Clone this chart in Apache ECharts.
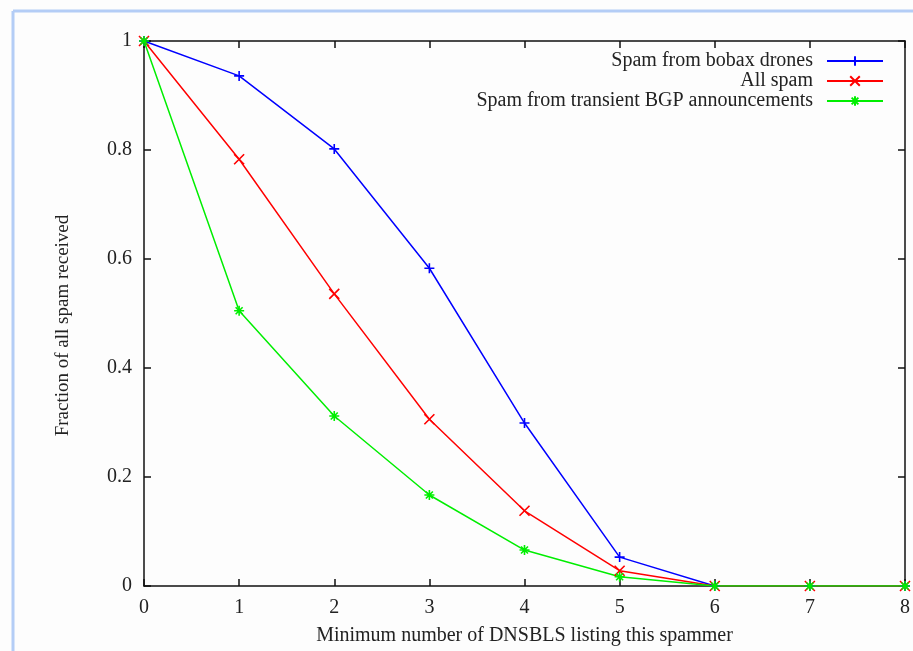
<!DOCTYPE html>
<html><head><meta charset="utf-8">
<script src="https://cdn.jsdelivr.net/npm/echarts@6/dist/echarts.min.js"></script>
<style>html,body{margin:0;padding:0;background:#fdfdfd}#c{width:913px;height:651px}</style>
</head><body><div id="c"></div>
<script>
const categories = [0,1,2,3,4,5,6,7,8];
const bobax = [1,0.936,0.802,0.583,0.299,0.053,0,0,0];
const allSpam = [1,0.783,0.536,0.306,0.138,0.028,0,0,0];
const bgp = [1,0.505,0.312,0.167,0.066,0.017,0,0,0];
const seriesNames = ['Spam from bobax drones','All spam','Spam from transient BGP announcements'];
const yTicks = [0,0.2,0.4,0.6,0.8,1];

const font = 'Liberation Serif';
const plus = 'path://M0,5L10,5M5,0L5,10';
const cross = 'path://M1,1L9,9M9,1L1,9';
const star = 'path://M0,5L10,5M5,0L5,10M1.5,1.5L8.5,8.5M8.5,1.5L1.5,8.5';
function mk(name, data, color, sym){
  return {name, type:'line', data: categories.map((c,i)=>[c,data[i]]),
    symbol: sym, symbolSize: 10, showSymbol:true,
    lineStyle:{color, width:1.5},
    itemStyle:{color:'none', borderColor:color, borderWidth:1.6},
    emphasis:{disabled:true}, animation:false, z:3};
}
const axisTick = {inside:true, length:7, lineStyle:{color:'#111', width:1.5}};
const axisLine = {onZero:false, lineStyle:{color:'#111', width:1.5}};
const chart = echarts.init(document.getElementById('c'));
chart.setOption({
  backgroundColor:'#fdfdfd',
  animation:false,
  grid:{left:144, right:5, top:41, bottom:65},
  graphic:[
    {type:'line', shape:{x1:13,y1:11,x2:913,y2:11}, style:{stroke:'#b4cdf6', lineWidth:3}},
    {type:'line', shape:{x1:13,y1:11,x2:13,y2:651}, style:{stroke:'#b4cdf6', lineWidth:3}}
  ],
  legend:{
    orient:'vertical', right:24, top:46, align:'right',
    itemWidth:56, itemHeight:12, itemGap:0,
    textStyle:{fontFamily:font, fontSize:20, lineHeight:20, color:'#222', padding:[0,9,0,0]},
    data: seriesNames
  },
  xAxis:[
    {type:'value', min:0, max:8, interval:1, name:'Minimum number of DNSBLS listing this spammer',
     nameLocation:'middle', nameGap:40, nameTextStyle:{fontFamily:font, fontSize:20, color:'#222'},
     axisLine, axisTick,
     axisLabel:{fontFamily:font, fontSize:20, color:'#222', margin:12}, splitLine:{show:false}},
    {type:'value', min:0, max:8, interval:1, position:'top',
     axisLine, axisTick, axisLabel:{show:false}, splitLine:{show:false}}
  ],
  yAxis:[
    {type:'value', min:0, max:1, interval:0.2, name:'Fraction of all spam received',
     nameLocation:'middle', nameGap:71, nameTextStyle:{fontFamily:font, fontSize:19, color:'#222', padding:[0,24,0,0]},
     axisLine, axisTick,
     axisLabel:{fontFamily:font, fontSize:20, color:'#222', margin:12,
       formatter:v=>{const t=yTicks.find(x=>Math.abs(x-v)<1e-9); return t===undefined?'':String(t);}},
     splitLine:{show:false}},
    {type:'value', min:0, max:1, interval:0.2, position:'right',
     axisLine, axisTick, axisLabel:{show:false}, splitLine:{show:false}}
  ],
  series:[
    mk(seriesNames[0], bobax, '#0000ff', plus),
    mk(seriesNames[1], allSpam, '#ff0000', cross),
    mk(seriesNames[2], bgp, '#00ee00', star)
  ]
});
</script></body></html>
